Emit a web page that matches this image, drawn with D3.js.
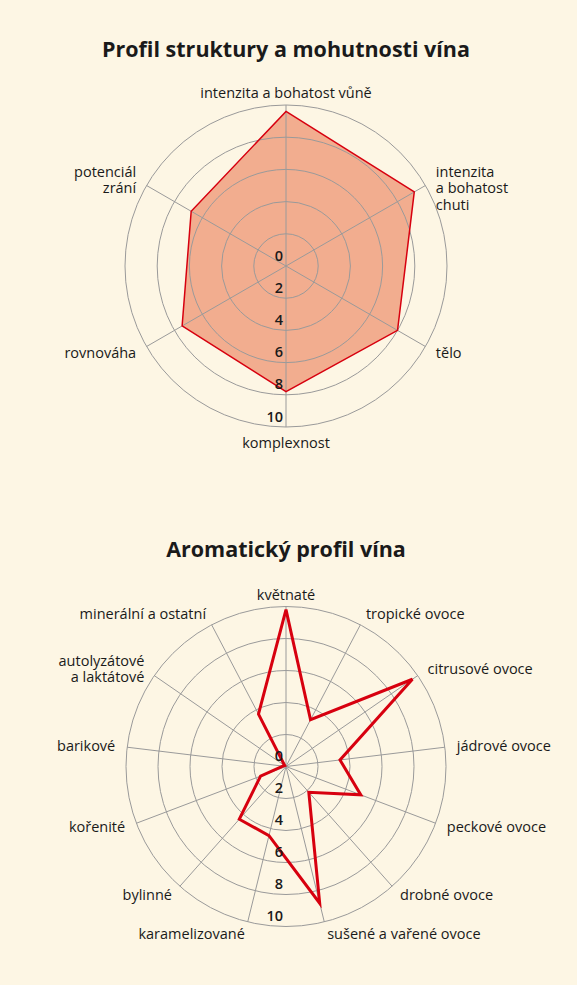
<!DOCTYPE html>
<html>
<head>
<meta charset="utf-8">
<script src="https://cdn.jsdelivr.net/npm/d3@7"></script>
<style>
    html, body { margin: 0; padding: 0; background: #fdf6e4; }
    svg { display: block; font-family: 'Open Sans', sans-serif; }
    .title { font-size: 21.5px; font-weight: 700; fill: #1a1a1a; }
    .axisLabel { font-size: 14.5px; fill: #1a1a1a; }
    .tickLabel { font-size: 14.5px; font-weight: 600; fill: #1a1a1a; }
    .grid { fill: none; stroke: #9a9a9a; stroke-width: 1; }
</style>
</head>
<body>
<div id="chart"></div>
<script>
// chart 1
var structureTitle = 'Profil struktury a mohutnosti vína';
var structureAxes = [
    ['intenzita a bohatost vůně'],
    ['intenzita', 'a bohatost', 'chuti'],
    ['tělo'],
    ['komplexnost'],
    ['rovnováha'],
    ['potenciál', 'zrání']
];
var structureValues = [9.6, 9.2, 8.0, 7.8, 7.45, 6.8];

// chart 2
var aromaTitle = 'Aromatický profil vína';
var aromaAxes = [
    ['květnaté'],
    ['tropické ovoce'],
    ['citrusové ovoce'],
    ['jádrové ovoce'],
    ['peckové ovoce'],
    ['drobné ovoce'],
    ['sušené a vařené ovoce'],
    ['karamelizované'],
    ['bylinné'],
    ['kořenité'],
    ['barikové'],
    ['autolyzátové', 'a laktátové'],
    ['minerální a ostatní']
];
var aromaValues = [9.8, 3.3, 9.6, 3.4, 5.0, 2.15, 8.8, 4.45, 4.4, 1.7, 0.2, 0.1, 3.7];

var ringTicks = [0, 2, 4, 6, 8, 10];

var W = 577, H = 985;
var svg = d3.select('#chart').append('svg').attr('width', W).attr('height', H);

function drawRadar(opt) {
    var g = svg.append('g').attr('transform', 'translate(' + opt.cx + ',' + opt.cy + ')');
    var n = opt.axes.length;
    var rScale = d3.scaleLinear().domain([0, 10]).range([0, opt.radius]);
    var aScale = d3.scaleLinear().domain([0, n]).range([0, 2 * Math.PI]);

    svg.append('text').attr('class', 'title')
        .attr('x', opt.cx).attr('y', opt.titleY)
        .attr('text-anchor', 'middle')
        .text(opt.title);

    var line = d3.lineRadial()
        .angle(function (d, i) { return aScale(i); })
        .radius(function (d) { return rScale(d); })
        .curve(d3.curveLinearClosed);

    if (opt.fill) {
        g.append('path').datum(opt.values)
            .attr('d', line)
            .attr('fill', opt.fill)
            .attr('stroke', 'none');
    }

    g.selectAll('.ring').data(ringTicks.slice(1)).enter()
        .append('circle').attr('class', 'grid ring')
        .attr('r', function (d) { return rScale(d); });

    g.selectAll('.spoke').data(opt.axes).enter()
        .append('line').attr('class', 'grid spoke')
        .attr('x1', 0).attr('y1', 0)
        .attr('x2', function (d, i) { return rScale(10) * Math.sin(aScale(i)); })
        .attr('y2', function (d, i) { return -rScale(10) * Math.cos(aScale(i)); });

    g.append('path').datum(opt.values)
        .attr('d', line)
        .attr('fill', 'none')
        .attr('stroke', '#d7000f')
        .attr('stroke-width', opt.strokeWidth)
        .attr('stroke-linejoin', 'miter');

    // labels round the outer ring
    var labels = g.selectAll('.axisLabel').data(opt.axes).enter()
        .append('text').attr('class', 'axisLabel')
        .attr('text-anchor', function (d, i) {
            var s = Math.sin(aScale(i));
            return s > 0.1 ? 'start' : (s < -0.1 ? 'end' : 'middle');
        })
        .attr('transform', function (d, i) {
            var c = Math.cos(aScale(i));
            var r = rScale(10) + opt.labelPad + (c < -0.99 ? 4 : 0);
            return 'translate(' + (r * Math.sin(aScale(i))) + ',' + (-r * c) + ')';
        });

    labels.selectAll('tspan').data(function (d) { return d; }).enter()
        .append('tspan')
        .attr('x', 0)
        .attr('y', function (d, j, nodes) {
            var first = nodes.length > 1 ? -3 : 5;
            return first + j * 16.5;
        })
        .text(function (d) { return d; });

    g.selectAll('.tickLabel').data(ringTicks).enter()
        .append('text').attr('class', 'tickLabel')
        .attr('x', -3)
        .attr('y', function (d) { return rScale(d) - 10.5; })
        .attr('dy', '0.35em')
        .attr('text-anchor', 'end')
        .text(function (d) { return d; });
}

drawRadar({
    title: structureTitle, titleY: 57,
    axes: structureAxes, values: structureValues,
    cx: 286, cy: 266, radius: 161, labelPad: 12,
    fill: '#f2ad8f', strokeWidth: 1.5
});

drawRadar({
    title: aromaTitle, titleY: 557,
    axes: aromaAxes, values: aromaValues,
    cx: 286, cy: 766.5, radius: 160, labelPad: 12,
    fill: null, strokeWidth: 3
});
</script>
</body>
</html>
